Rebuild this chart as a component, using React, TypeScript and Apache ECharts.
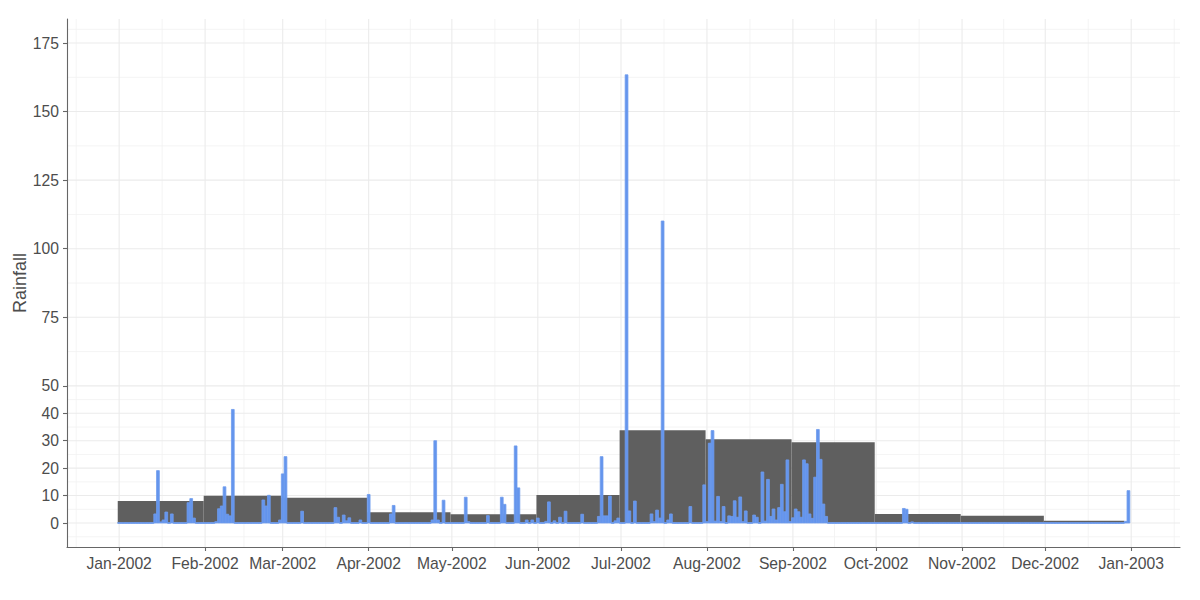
import React, { useEffect, useRef } from "react";
import * as echarts from "echarts";

const MONTH_NAMES = ["Jan", "Feb", "Mar", "Apr", "May", "Jun", "Jul", "Aug", "Sep", "Oct", "Nov", "Dec"];

// Monthly bars (start / end dates and values)
const monthStarts = [
  "2002-01-01", "2002-02-01", "2002-03-01", "2002-04-01", "2002-05-01", "2002-06-01",
  "2002-07-01", "2002-08-01", "2002-09-01", "2002-10-01", "2002-11-01", "2002-12-01",
];
const monthEnds = [
  "2002-02-01", "2002-03-01", "2002-04-01", "2002-05-01", "2002-06-01", "2002-07-01",
  "2002-08-01", "2002-09-01", "2002-10-01", "2002-11-01", "2002-12-01", "2002-12-30",
];
const monthlyRain = [8.0, 9.9, 9.2, 3.9, 3.2, 10.2, 33.8, 30.5, 29.4, 3.3, 2.6, 0.85];

// Daily rainfall (days not listed are 0)
const rainDates = [
  "2002-01-14", "2002-01-15", "2002-01-16", "2002-01-17", "2002-01-18", "2002-01-20", "2002-01-26", "2002-01-27", "2002-01-28",
  "2002-02-05", "2002-02-06", "2002-02-07", "2002-02-08", "2002-02-09", "2002-02-10", "2002-02-11", "2002-02-12",
  "2002-02-22", "2002-02-23", "2002-02-24", "2002-02-28",
  "2002-03-01", "2002-03-02", "2002-03-08", "2002-03-20", "2002-03-21", "2002-03-23", "2002-03-24", "2002-03-25", "2002-03-29",
  "2002-04-01", "2002-04-09", "2002-04-10", "2002-04-24", "2002-04-25", "2002-04-26", "2002-04-28",
  "2002-05-06", "2002-05-07", "2002-05-09", "2002-05-14", "2002-05-19", "2002-05-20", "2002-05-24", "2002-05-25", "2002-05-28", "2002-05-30",
  "2002-06-01", "2002-06-04", "2002-06-05", "2002-06-07", "2002-06-09", "2002-06-11", "2002-06-17", "2002-06-23", "2002-06-24",
  "2002-06-25", "2002-06-26", "2002-06-27", "2002-06-29", "2002-06-30",
  "2002-07-03", "2002-07-04", "2002-07-06", "2002-07-12", "2002-07-13", "2002-07-14", "2002-07-15", "2002-07-16", "2002-07-18",
  "2002-07-19", "2002-07-20", "2002-07-26", "2002-07-31",
  "2002-08-01", "2002-08-02", "2002-08-03", "2002-08-04", "2002-08-05", "2002-08-06", "2002-08-07", "2002-08-09", "2002-08-10",
  "2002-08-11", "2002-08-12", "2002-08-13", "2002-08-14", "2002-08-15", "2002-08-18", "2002-08-19", "2002-08-21", "2002-08-22",
  "2002-08-23", "2002-08-24", "2002-08-25", "2002-08-26", "2002-08-27", "2002-08-28", "2002-08-29", "2002-08-30", "2002-08-31",
  "2002-09-01", "2002-09-02", "2002-09-03", "2002-09-04", "2002-09-05", "2002-09-06", "2002-09-07", "2002-09-08", "2002-09-09",
  "2002-09-10", "2002-09-11", "2002-09-12", "2002-09-13", "2002-09-23",
  "2002-10-11", "2002-10-12", "2002-10-14",
  "2002-12-30", "2002-12-31",
];
const rainValues = [
  3.3, 19.1, 0.4, 1.1, 4.0, 3.3, 7.4, 8.9, 1.8,
  0.5, 5.2, 6.2, 13.2, 3.2, 2.6, 41.4, 0.3,
  8.4, 6.2, 10.1, 1.1,
  17.9, 24.2, 4.3, 5.6, 2.1, 2.9, 0.8, 1.9, 1.1,
  10.4, 3.3, 6.4, 1.1, 30.0, 1.1, 8.3,
  9.4, 0.5, 0.3, 2.7, 9.4, 6.8, 28.1, 12.8, 1.1, 1.1,
  1.8, 0.6, 7.7, 0.8, 2.1, 4.3, 3.2, 2.4, 24.2,
  2.6, 2.6, 9.8, 0.8, 1.8,
  163.4, 4.4, 8.0, 3.3, 0.5, 4.7, 1.8, 110.1, 1.1,
  3.3, 0.3, 6.0, 13.9,
  0.5, 29.1, 33.7, 0.7, 9.7, 0.5, 6.0, 2.6, 2.4,
  8.1, 2.1, 9.5, 0.5, 4.4, 2.9, 2.1, 18.6, 0.7,
  15.9, 2.4, 5.1, 1.1, 5.6, 14.1, 4.1, 23.0, 0.5,
  1.9, 5.1, 4.1, 2.1, 23.0, 21.6, 3.3, 1.7, 16.7,
  34.1, 23.2, 6.9, 2.4, 0.3,
  5.3, 5.0, 0.4,
  0.6, 11.8,
];

const yTicks = [0, 10, 20, 30, 40, 50, 75, 100, 125, 150, 175];
const xTickDates = [
  "2002-01-01", "2002-02-01", "2002-03-01", "2002-04-01", "2002-05-01", "2002-06-01", "2002-07-01",
  "2002-08-01", "2002-09-01", "2002-10-01", "2002-11-01", "2002-12-01", "2003-01-01",
];
const yTitle = "Rainfall";

const DAY = 86400000;
const toMs = (s: string) => {
  const [y, m, d] = s.split("-").map(Number);
  return new Date(y, m - 1, d).getTime();
};
const fmt = (dt: Date) =>
  `${dt.getFullYear()}-${String(dt.getMonth() + 1).padStart(2, "0")}-${String(dt.getDate()).padStart(2, "0")}`;

// ggplot-style minor breaks: midpoints, with ends extended by the first gap
function minorBreaks(b: number[], lo: number, hi: number) {
  const d = b[1] - b[0];
  const ext = [b[0] - d, ...b, b[b.length - 1] + d];
  const out: number[] = [];
  for (let i = 0; i < ext.length - 1; i++) {
    const m = (ext[i] + ext[i + 1]) / 2;
    if (m > lo && m < hi) out.push(m);
  }
  return out;
}

export default function App() {
  const ref = useRef<HTMLDivElement>(null);
  useEffect(() => {
    if (!ref.current) return;
    const chart = echarts.init(ref.current, null, { renderer: "svg" });

    const rainMap: Record<string, number> = {};
    rainDates.forEach((d, i) => (rainMap[d] = rainValues[i]));
    const daily: [number, number][] = [];
    for (let i = 0; i < 365; i++) {
      const dt = new Date(2002, 0, 1 + i);
      daily.push([dt.getTime(), rainMap[fmt(dt)] ?? 0]);
    }
    const monthly = monthStarts.map((s, i) => [toMs(s) - DAY / 2, toMs(monthEnds[i]) - DAY / 2, monthlyRain[i]]);

    const xTicks = xTickDates.map(toMs);
    const xMin = xTicks[0] - 18.8 * DAY;
    const xMax = xTicks[xTicks.length - 1] + 17.6 * DAY;
    const yMin = -8.75;
    const yMax = 183.75;
    const yMinor = minorBreaks(yTicks, yMin, yMax);
    const xMinor = minorBreaks(xTicks, xMin, xMax);

    // gridlines: [orientation (0 = horizontal, 1 = vertical), value, major?]
    const gridRows: [number, number, number][] = [
      ...yMinor.map((v) => [0, v, 0] as [number, number, number]),
      ...xMinor.map((v) => [1, v, 0] as [number, number, number]),
      ...yTicks.map((v) => [0, v, 1] as [number, number, number]),
      ...xTicks.map((v) => [1, v, 1] as [number, number, number]),
    ];

    const labelStyle = { color: "#4D4D4D", fontSize: 15.7, fontFamily: "Liberation Sans, Arial, sans-serif" };
    const axisColor = "#666666";

    chart.setOption({
      animation: false,
      backgroundColor: "#ffffff",
      grid: { left: 67, right: 20, top: 19, bottom: 53, containLabel: false, outerBoundsMode: "none" },
      graphic: [
        {
          type: "text",
          x: 20,
          y: 283,
          rotation: Math.PI / 2,
          style: {
            text: yTitle,
            fill: "#4D4D4D",
            fontSize: 18,
            fontFamily: "Liberation Sans, Arial, sans-serif",
            align: "center",
            verticalAlign: "middle",
          },
        },
      ],
      xAxis: {
        type: "value",
        min: xMin,
        max: xMax,
        axisLine: { show: true, onZero: false, lineStyle: { color: axisColor, width: 1.1 } },
        axisTick: { show: true, length: 4, customValues: xTicks, lineStyle: { color: axisColor, width: 1.1 } },
        axisLabel: {
          ...labelStyle,
          margin: 8,
          customValues: xTicks,
          formatter: (v: number) => {
            const d = new Date(v);
            return `${MONTH_NAMES[d.getMonth()]}-${d.getFullYear()}`;
          },
        },
        splitLine: { show: false },
      },
      yAxis: {
        type: "value",
        min: yMin,
        max: yMax,
        axisLine: { show: true, onZero: false, lineStyle: { color: axisColor, width: 1.1 } },
        axisTick: { show: true, length: 4, customValues: yTicks, lineStyle: { color: axisColor, width: 1.1 } },
        axisLabel: { ...labelStyle, margin: 8, customValues: yTicks, formatter: (v: number) => String(v) },
        splitLine: { show: false },
      },
      series: [
        {
          type: "custom",
          name: "grid",
          silent: true,
          z: 0,
          data: gridRows,
          encode: { x: 1, y: 1 },
          renderItem: (params: any, api: any) => {
            const o = api.value(0);
            const v = api.value(1);
            const isMajor = api.value(2) === 1;
            let p0, p1;
            if (o === 0) {
              p0 = api.coord([xMin, v]);
              p1 = api.coord([xMax, v]);
            } else {
              p0 = api.coord([v, yMin]);
              p1 = api.coord([v, yMax]);
            }
            return {
              type: "line",
              shape: { x1: p0[0], y1: p0[1], x2: p1[0], y2: p1[1] },
              style: { stroke: isMajor ? "#EBEBEB" : "#F1F1F1", lineWidth: isMajor ? 1.1 : 0.8 },
            };
          },
        },
        {
          type: "custom",
          name: "Monthly",
          z: 2,
          data: monthly,
          encode: { x: [0, 1], y: 2 },
          renderItem: (params: any, api: any) => {
            const p0 = api.coord([api.value(0), api.value(2)]);
            const p1 = api.coord([api.value(1), 0]);
            return {
              type: "rect",
              shape: { x: p0[0], y: p0[1], width: p1[0] - p0[0], height: p1[1] - p0[1] },
              style: { fill: "#5F5F5F" },
            };
          },
        },
        {
          type: "custom",
          name: "Daily",
          z: 3,
          data: daily,
          encode: { x: 0, y: 1 },
          renderItem: (params: any, api: any) => {
            const t = api.value(0);
            const v = api.value(1);
            const p0 = api.coord([t - 0.5 * DAY, v]);
            const p1 = api.coord([t + 0.5 * DAY, 0]);
            let y = p0[1];
            let h = p1[1] - p0[1];
            if (h < 1) {
              y = p1[1] - 0.5;
              h = 1;
            }
            return {
              type: "rect",
              shape: { x: p0[0], y, width: p1[0] - p0[0], height: h },
              style: { fill: "#6495ED", stroke: "#6F9CEE", lineWidth: 0.8 },
            };
          },
        },
      ],
    });
    return () => chart.dispose();
  }, []);

  return (
    <div
      ref={ref}
      style={{ position: "fixed", left: 0, top: 0, width: 1200, height: 600, background: "#fff" }}
    />
  );
}
